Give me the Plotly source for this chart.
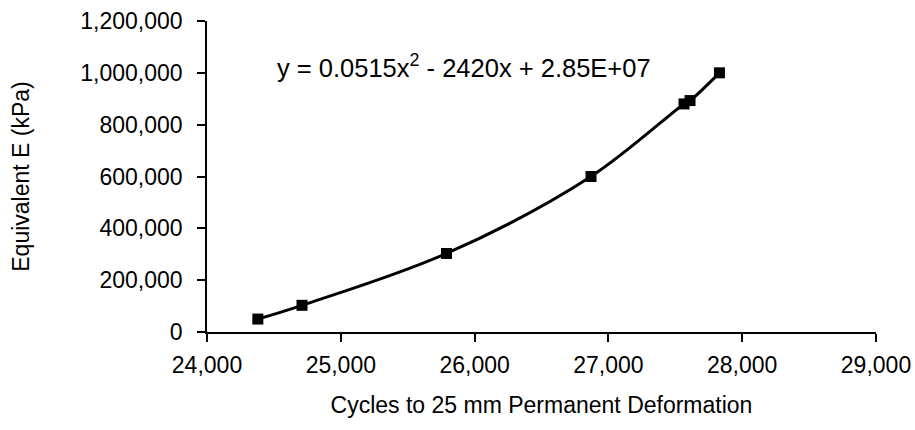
import plotly.graph_objects as go

cycles = [24380, 24710, 25790, 26870, 27565, 27610, 27830]
equiv_e = [50000, 103000, 303000, 600000, 880000, 893000, 1000000]
x_ticks = [24000, 25000, 26000, 27000, 28000, 29000]
y_ticks = [0, 200000, 400000, 600000, 800000, 1000000, 1200000]
equation = "y = 0.0515x<sup>2</sup> - 2420x + 2.85E+07"

font = dict(family="Liberation Sans, Arial, sans-serif", size=23, color="#000000")

fig = go.Figure()
fig.add_trace(go.Scatter(
    x=cycles, y=equiv_e, mode="lines",
    line=dict(color="#000000", width=3, shape="spline", smoothing=1.0),
    showlegend=False, hoverinfo="skip",
))
fig.add_trace(go.Scatter(
    x=cycles, y=equiv_e, mode="markers",
    marker=dict(symbol="square", size=11, color="#000000"),
    showlegend=False,
))

fig.update_layout(
    width=915, height=430,
    margin=dict(l=207, r=39, t=21, b=98),
    paper_bgcolor="white", plot_bgcolor="white",
    font=font,
    xaxis=dict(
        range=[24000, 29000], tickvals=x_ticks,
        ticktext=[f"{v:,}" for v in x_ticks],
        showgrid=False, zeroline=False, automargin=False,
        showline=True, linecolor="#000000", linewidth=1.5,
        ticks="outside", ticklen=8, tickwidth=1.5, tickcolor="#000000",
        ticklabelstandoff=4,
        tickfont=font,
        title=dict(text="Cycles to 25 mm Permanent Deformation", standoff=20,
                   font=font),
    ),
    yaxis=dict(
        range=[0, 1200000], tickvals=y_ticks,
        ticktext=[f"{v:,}" for v in y_ticks],
        showgrid=False, zeroline=False, automargin=False,
        showline=True, linecolor="#000000", linewidth=1.5,
        ticks="outside", ticklen=8, tickwidth=1.5, tickcolor="#000000",
        ticklabelstandoff=10,
        tickfont=font,
        title=dict(text="Equivalent E (kPa)", standoff=44, font=font),
    ),
    annotations=[dict(
        text=equation, xref="paper", yref="paper",
        x=(275 - 207) / (876 - 207), y=(331.7 - 66) / 311,
        xanchor="left", yanchor="middle", showarrow=False,
        font=dict(family="Liberation Sans, Arial, sans-serif", size=25.5,
                  color="#000000"),
    )],
)

fig.write_html("out.html")
